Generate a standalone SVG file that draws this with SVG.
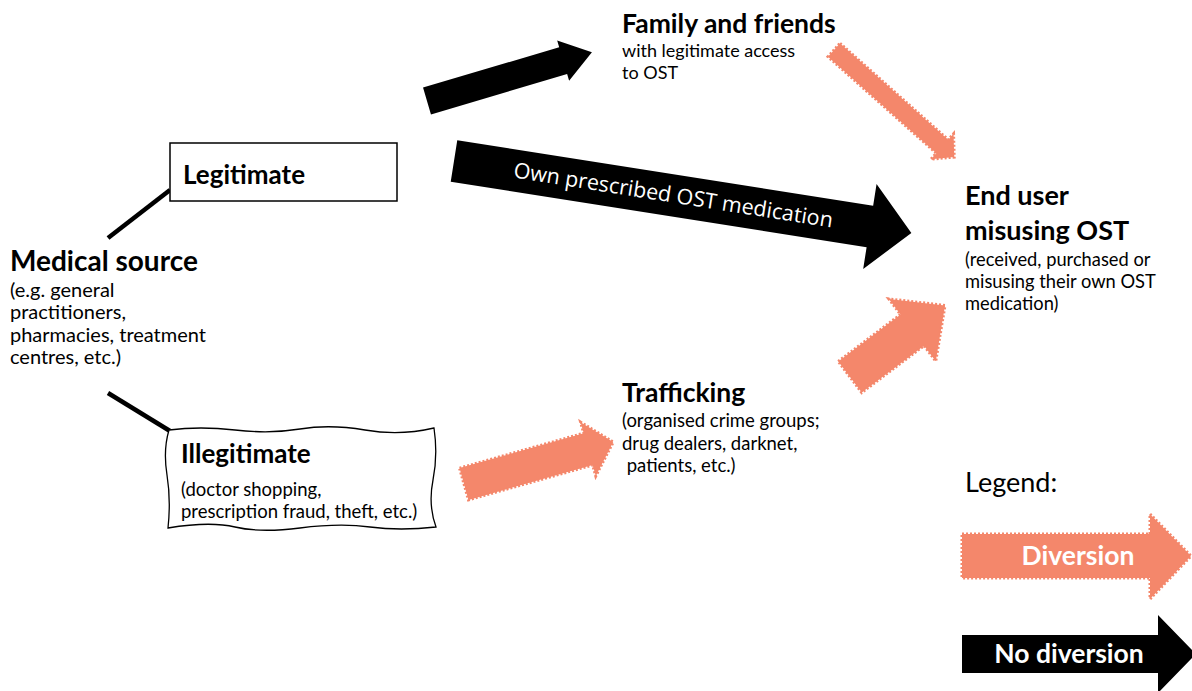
<svg xmlns="http://www.w3.org/2000/svg" width="1192" height="691" viewBox="0 0 1192 691">
<style>
.t{font-family:Lato,"Liberation Sans",sans-serif;fill:#000}
.b{font-weight:bold}
.blk{fill:#000}
.sal{fill:#F4876B;stroke:#F4876B;stroke-width:3;stroke-dasharray:2 2}
.ln{stroke:#000;stroke-width:4.5;fill:none}
.wl{font-family:"Open Sans","Liberation Sans",sans-serif;fill:#fff}
.lg{font-family:Lato,"Liberation Sans",sans-serif;fill:#fff;font-weight:bold;text-anchor:middle}
</style>
<rect width="1192" height="691" fill="#fff"/>
<g id="connectors">
  <line class="ln" x1="108" y1="238" x2="170" y2="190"/>
  <line class="ln" x1="108" y1="393" x2="170" y2="431"/>
  <path class="blk" transform="translate(427,101) rotate(-16.5)" d="M0,-14 L142,-14 L142,-21 L172,0 L142,21 L142,14 L0,14 Z"/>
  <g transform="translate(454,161) rotate(8.95)">
    <path class="blk" d="M0,-21 L421,-21 L421,-43 L463,0 L421,43 L421,21 L0,21 Z"/>
    <text class="wl" x="222" y="7" font-size="21.5" text-anchor="middle">Own prescribed OST medication</text>
  </g>
  <path class="sal" transform="translate(834,50) rotate(41.7)" d="M0,-9 L145,-9 L145,-17 L161,0 L145,17 L145,9 L0,9 Z"/>
  <path class="sal" transform="translate(850,377) rotate(-37)" d="M0,-19.5 L78,-19.5 L78,-39 L119,0 L78,39 L78,19.5 L0,19.5 Z"/>
  <path class="sal" transform="translate(464,484) rotate(-15.7)" d="M0,-16.5 L129,-16.5 L129,-28 L155,0 L129,28 L129,16.5 L0,16.5 Z"/>
</g>
<g id="legitimate">
  <rect x="170" y="143" width="227" height="58" fill="#fff" stroke="#000" stroke-width="1.5"/>
  <text class="t b" x="183" y="184" font-size="26">Legitimate</text>
</g>
<g id="medical-source">
  <text class="t b" x="10" y="271" font-size="28">Medical source</text>
  <text class="t" font-size="20"><tspan x="10" y="297">(e.g. general</tspan><tspan x="10" y="319">practitioners,</tspan><tspan x="10" y="342">pharmacies, treatment</tspan><tspan x="10" y="364">centres, etc.)</tspan></text>
</g>
<g id="illegitimate">
  <path d="M169,430 Q200,426 235,430 T300,429 T365,430 T434,428 Q438,455 433,480 T436,527 Q400,531 370,527 T300,528 T235,527 T168,528 Q171,500 167,475 T169,430 Z" fill="#fff" stroke="#000" stroke-width="1.3"/>
  <text class="t b" x="181" y="463" font-size="26">Illegitimate</text>
  <text class="t" font-size="18.5"><tspan x="181" y="496">(doctor shopping,</tspan><tspan x="181" y="518">prescription fraud, theft, etc.)</tspan></text>
</g>
<g id="family">
  <text class="t b" x="622" y="33" font-size="26.5">Family and friends</text>
  <text class="t" font-size="18"><tspan x="622" y="57">with legitimate access</tspan><tspan x="622" y="79">to OST</tspan></text>
</g>
<g id="trafficking">
  <text class="t b" x="622" y="402" font-size="26.5">Trafficking</text>
  <text class="t" font-size="18.5"><tspan x="622" y="427">(organised crime groups;</tspan><tspan x="622" y="450">drug dealers, darknet,</tspan><tspan x="622" y="472"> patients, etc.)</tspan></text>
</g>
<g id="end-user">
  <text class="t b" x="965" y="205" font-size="27">End user</text>
  <text class="t b" x="965" y="240" font-size="27">misusing OST</text>
  <text class="t" font-size="18.3"><tspan x="965" y="266">(received, purchased or</tspan><tspan x="965" y="288">misusing their own OST</tspan><tspan x="965" y="310">medication)</tspan></text>
</g>
<g id="legend">
  <text class="t" x="965" y="492" font-size="27">Legend:</text>
  <path class="sal" d="M962,534 L1150,534 L1150,514 L1191,556 L1150,599 L1150,578 L962,578 Z"/>
  <text class="lg" x="1078" y="565" font-size="26.5">Diversion</text>
  <path class="blk" d="M962,635 L1158,635 L1158,615 L1196,654 L1158,693 L1158,673 L962,673 Z"/>
  <text class="lg" x="1069" y="663" font-size="26.5">No diversion</text>
</g>
</svg>
